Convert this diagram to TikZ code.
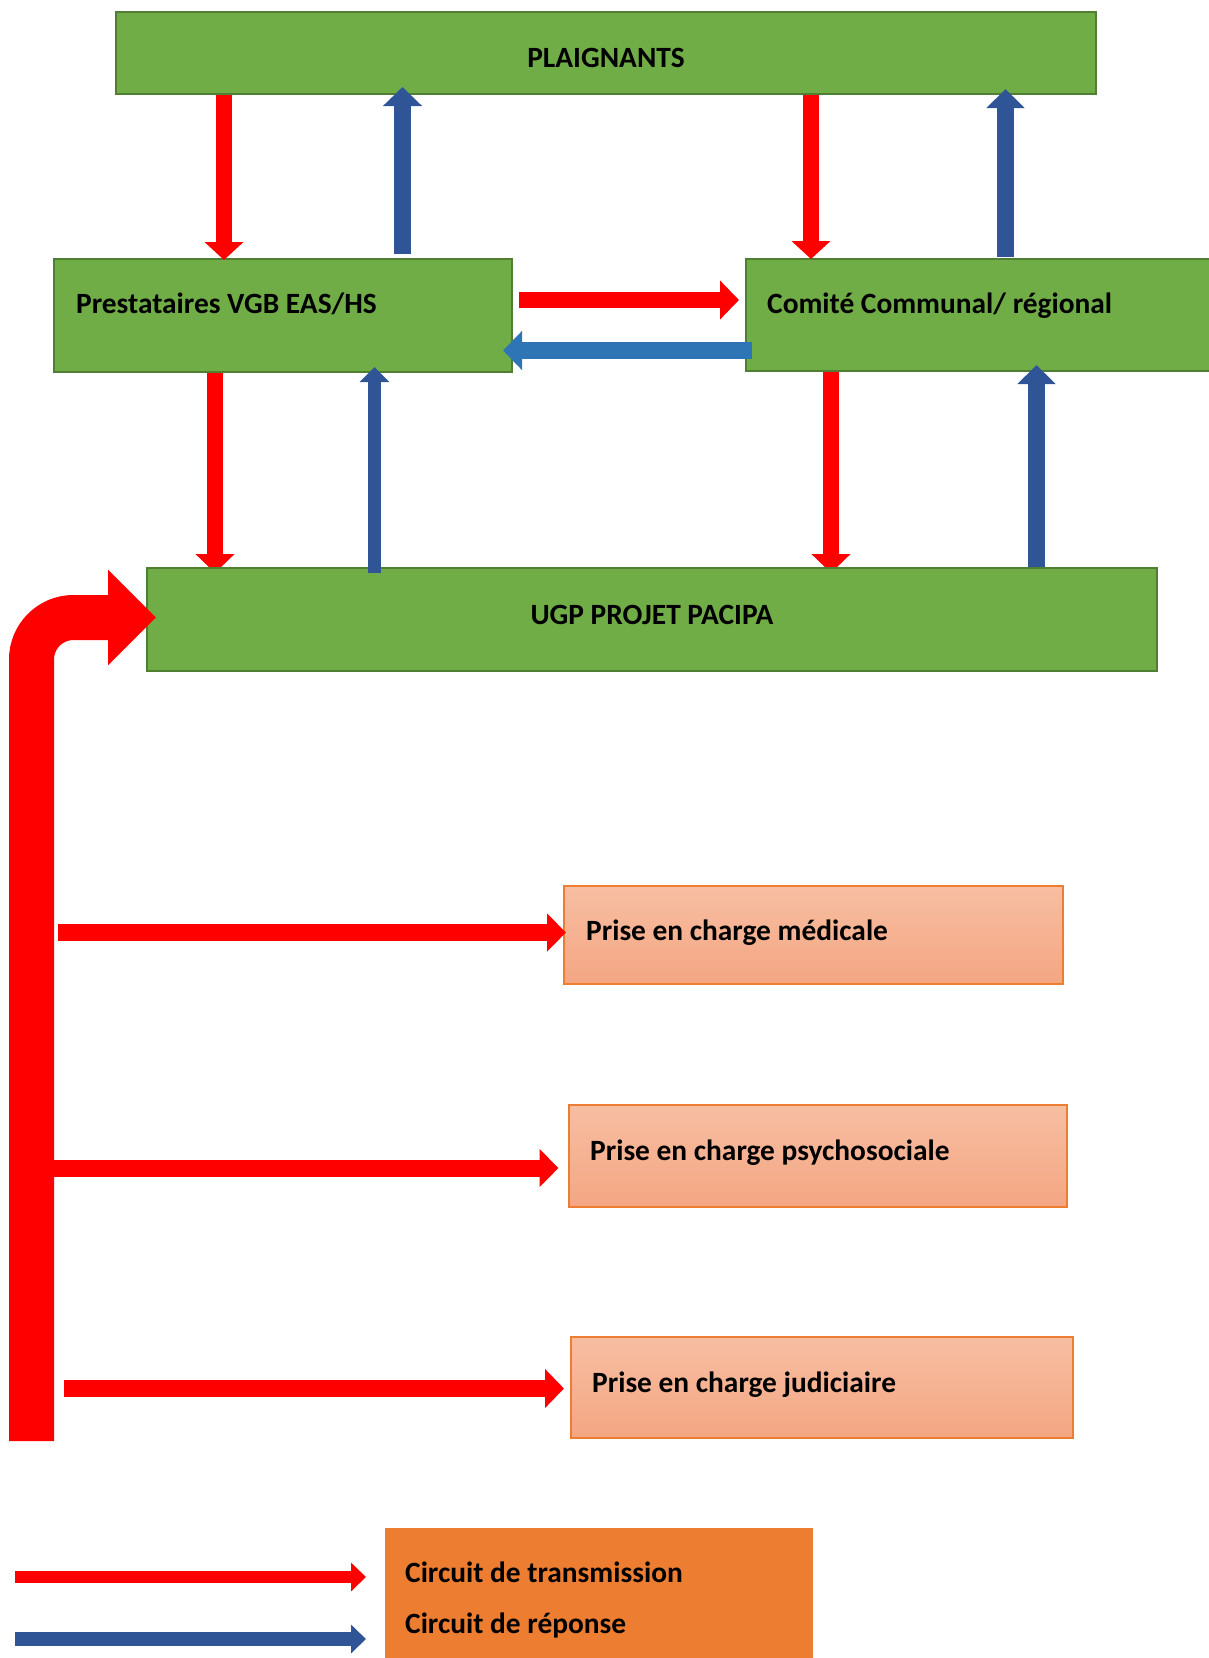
\documentclass[tikz,border=0pt]{standalone}
\usepackage{fontspec}
\setmainfont{Carlito}
\usetikzlibrary{arrows.meta}
\definecolor{gfill}{HTML}{70AD47}
\definecolor{gline}{HTML}{507E32}
\definecolor{rred}{HTML}{FF0000}
\definecolor{dblue}{HTML}{2F5597}
\definecolor{lblue}{HTML}{2E75B6}
\definecolor{orng}{HTML}{ED7D31}
\definecolor{ptop}{RGB}{247,190,162}
\definecolor{pbot}{RGB}{244,166,130}
\begin{document}
\begin{tikzpicture}[x=1pt,y=-1pt,
  greenbox/.style={draw=gline, fill=gfill, line width=2.5pt, anchor=north west, inner sep=0pt, outer sep=0pt},
  pinkbox/.style={draw=orng, top color=ptop, bottom color=pbot, line width=1.5pt, anchor=north west, inner sep=0pt, outer sep=0pt},
  legbox/.style={fill=orng, anchor=north west, inner sep=0pt, outer sep=0pt},
  lbl/.style={font=\fontsize{29.4}{35}\selectfont\bfseries, inner sep=0pt, anchor=base west},
  arr/.style n args={4}{draw=#1, line width=#2, -{Triangle[length=#4, width=#3]}}
]
\useasboundingbox (0,0) rectangle (1209,1658);

% arrows lying under the UGP box
\coordinate (m1a) at (215,372);  \coordinate (m1b) at (215,573);
\coordinate (m3a) at (831,365);  \coordinate (m3b) at (831,573);
\draw[arr={rred}{16pt}{38pt}{19pt}] (m1a) -- (m1b);
\draw[arr={rred}{16pt}{38pt}{19pt}] (m3a) -- (m3b);

% boxes
\node[greenbox, minimum width=980pt, minimum height=82pt] (plaig) at (116,12) {};
\node[greenbox, minimum width=458pt, minimum height=113pt] (prest) at (54,259) {};
\node[greenbox, minimum width=470pt, minimum height=112pt] (comite) at (746,259) {};
\node[greenbox, minimum width=1010pt, minimum height=103pt] (ugp) at (147,568) {};
\node[pinkbox, minimum width=499pt, minimum height=98pt] (med) at (564,886) {};
\node[pinkbox, minimum width=498pt, minimum height=102pt] (psy) at (569,1105) {};
\node[pinkbox, minimum width=502pt, minimum height=101pt] (jud) at (571,1337) {};
\node[legbox, minimum width=428pt, minimum height=140pt] (leg) at (385,1528) {};

% texts
\node[lbl, anchor=base] (tplaig) at (606,67) {PLAIGNANTS};
\node[lbl] (tprest) at (76,313) {Prestataires VGB EAS/HS};
\node[lbl] (tcomite) at (767,313) {Comité Communal/ régional};
\node[lbl, anchor=base] (tugp) at (652,624) {UGP PROJET PACIPA};
\node[lbl] (tmed) at (586,940) {Prise en charge médicale};
\node[lbl] (tpsy) at (590,1160) {Prise en charge psychosociale};
\node[lbl] (tjud) at (592,1392) {Prise en charge judiciaire};
\node[lbl] (tleg1) at (405,1582) {Circuit de transmission};
\node[lbl] (tleg2) at (405,1633) {Circuit de réponse};

% top arrows
\coordinate (t1a) at (224,95);    \coordinate (t1b) at (224,260);
\coordinate (t2a) at (402.5,254); \coordinate (t2b) at (402.5,87);
\coordinate (t3a) at (811,95);    \coordinate (t3b) at (811,259);
\coordinate (t4a) at (1005.5,257);\coordinate (t4b) at (1005.5,89);
\draw[arr={rred}{16pt}{38pt}{18pt}] (t1a) -- (t1b);
\draw[arr={dblue}{17pt}{38pt}{19pt}] (t2a) -- (t2b);
\draw[arr={rred}{16pt}{38pt}{18pt}] (t3a) -- (t3b);
\draw[arr={dblue}{17pt}{37pt}{19pt}] (t4a) -- (t4b);

% horizontal arrows between prestataires and comite
\coordinate (h1a) at (519,300);   \coordinate (h1b) at (739,300);
\coordinate (h2a) at (752,350.5); \coordinate (h2b) at (503,350.5);
\draw[arr={rred}{16pt}{38pt}{19pt}] (h1a) -- (h1b);
\draw[arr={lblue}{17pt}{38pt}{19pt}] (h2a) -- (h2b);

% middle blue arrows
\coordinate (m2a) at (374.5,573); \coordinate (m2b) at (374.5,367);
\coordinate (m4a) at (1036.5,567);\coordinate (m4b) at (1036.5,365);
\draw[arr={dblue}{13pt}{29pt}{15pt}] (m2a) -- (m2b);
\draw[arr={dblue}{17pt}{37pt}{19pt}] (m4a) -- (m4b);

% big bent arrow
\coordinate (b0) at (31.5,1441);
\coordinate (b1) at (31.5,617.5);
\coordinate (b2) at (156,617.5);
\draw[arr={rred}{45pt}{93pt}{48pt}, rounded corners=42pt] (b0) -- (b1) -- (b2);

% lower arrows
\coordinate (l1a) at (58,932.5);  \coordinate (l1b) at (566,932.5);
\coordinate (l2a) at (53,1168);   \coordinate (l2b) at (558.5,1168);
\coordinate (l3a) at (64,1388.5); \coordinate (l3b) at (564,1388.5);
\draw[arr={rred}{17pt}{37pt}{19pt}] (l1a) -- (l1b);
\draw[arr={rred}{17pt}{37pt}{19pt}] (l2a) -- (l2b);
\draw[arr={rred}{17pt}{38pt}{19pt}] (l3a) -- (l3b);

% legend arrows
\coordinate (g1a) at (15,1577); \coordinate (g1b) at (366,1577);
\coordinate (g2a) at (15,1639); \coordinate (g2b) at (366,1639);
\draw[arr={rred}{12pt}{28pt}{15pt}] (g1a) -- (g1b);
\draw[arr={dblue}{14pt}{28pt}{15pt}] (g2a) -- (g2b);
\end{tikzpicture}
\end{document}
